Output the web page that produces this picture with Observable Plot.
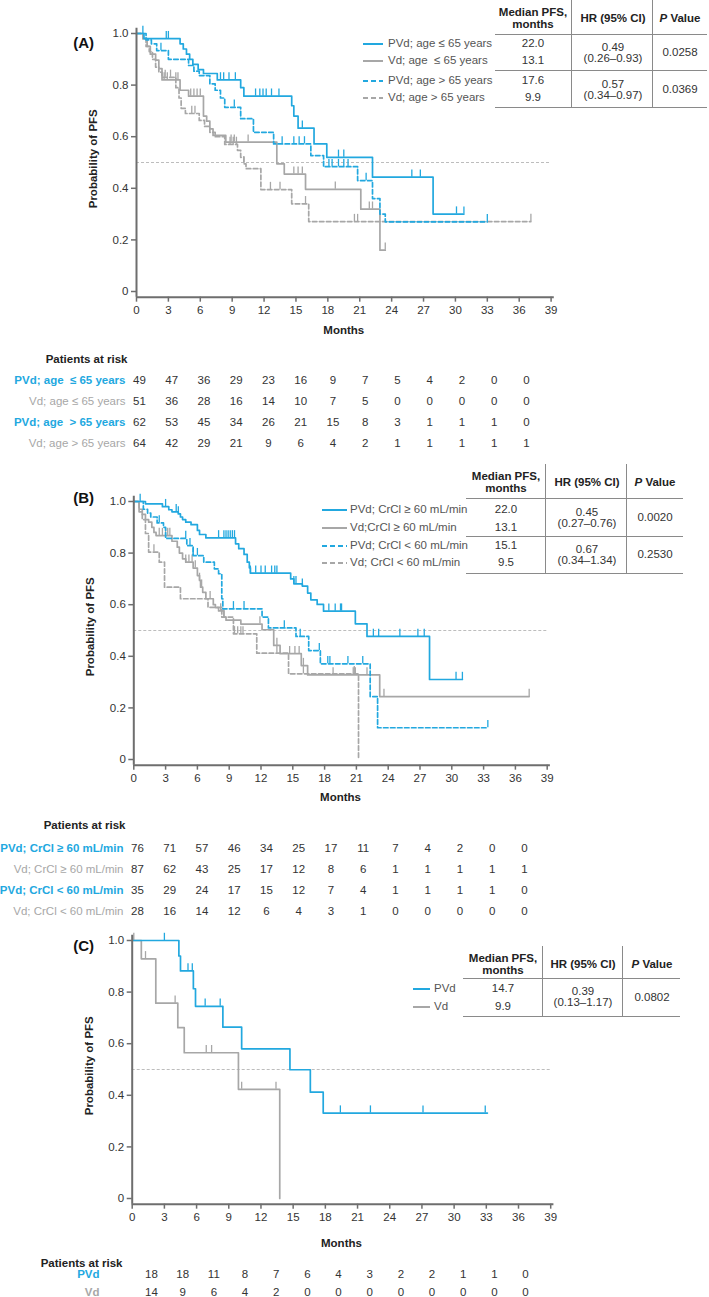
<!DOCTYPE html>
<html><head><meta charset="utf-8">
<script src="https://cdn.jsdelivr.net/npm/d3@7"></script>
<script src="https://cdn.jsdelivr.net/npm/@observablehq/plot@0.6"></script>
<style>
body{margin:0;background:#fff;font-family:"Liberation Sans",Arial,Helvetica,sans-serif;}
#page{position:relative;width:709px;height:1297px;overflow:hidden;background:#fff;}
.abs{position:absolute;white-space:pre;line-height:1;}
.plot{position:absolute;left:0;}
</style></head><body><div id="page"></div>
<script>
const BLUE = "#22a8df", GRAY = "#a7a7a7", AXIS = "#6e6e6e", INK = "#333";
const xTicks = d3.range(0, 40, 3);
const riskMonths = d3.range(0, 37, 3);
const yTicks = [0, 0.2, 0.4, 0.6, 0.8, 1];

// ---------- Panel A : age ----------
const labelsA = ["PVd; age ≤ 65 years", "Vd; age  ≤ 65 years", "PVd; age > 65 years", "Vd; age > 65 years"];
const riskLabelsA = ["PVd; age  ≤ 65 years", "Vd; age ≤ 65 years", "PVd; age  > 65 years", "Vd; age > 65 years"];
const kmA_pvdLe65 = [[0,1],[0.7,0.98],[4.1,0.96],[4.4,0.94],[4.7,0.92],[5.0,0.90],[5.3,0.88],[5.8,0.86],[6.3,0.845],[7.6,0.82],[9.8,0.79],[10.1,0.757],[14.6,0.72],[14.8,0.68],[15.2,0.633],[16.7,0.572],[17.9,0.52],[22.2,0.443],[27.9,0.30],[30.8,0.30]];
const cenA_pvdLe65 = [0.6,2.8,3.0,7.9,8.2,8.7,9.3,11.2,11.6,11.9,12.2,12.7,13.4,15.6,19.0,19.5,25.9,26.7,30.1,30.8];
const kmA_vdLe65 = [[0,1],[0.6,0.98],[1.0,0.95],[1.3,0.92],[1.8,0.897],[2.1,0.864],[2.4,0.82],[4.1,0.78],[4.9,0.757],[6.3,0.68],[6.6,0.66],[6.9,0.63],[7.2,0.605],[8.4,0.579],[13.2,0.495],[13.9,0.455],[15.9,0.396],[21.1,0.319],[22.9,0.16],[23.4,0.16]];
const cenA_vdLe65 = [2.6,2.9,3.7,3.9,5.1,5.4,5.7,6.0,8.9,9.2,10.5,14.8,15.2,15.6,18.7,21.9,22.2,23.4];
const kmA_pvdGt65 = [[0,1],[0.9,0.975],[1.4,0.96],[1.9,0.934],[3.0,0.90],[4.9,0.876],[5.4,0.854],[5.9,0.837],[6.9,0.805],[7.4,0.78],[7.9,0.75],[8.3,0.714],[9.8,0.67],[11.0,0.617],[12.9,0.572],[16.4,0.527],[17.6,0.484],[20.8,0.43],[22.2,0.36],[22.9,0.30],[23.4,0.27],[33.0,0.27]];
const cenA_pvdGt65 = [2.3,9.2,13.7,14.8,15.3,15.8,18.1,18.4,19.0,19.5,19.9,21.6,33.0];
const kmA_vdGt65 = [[0,1],[0.6,0.98],[0.9,0.95],[1.2,0.93],[1.5,0.90],[1.8,0.87],[2.1,0.85],[2.4,0.83],[3.7,0.79],[4.0,0.75],[4.2,0.71],[4.6,0.69],[5.9,0.663],[6.4,0.64],[6.9,0.617],[7.4,0.60],[8.3,0.57],[9.5,0.547],[9.8,0.52],[10.1,0.495],[10.3,0.476],[11.7,0.395],[14.6,0.34],[16.2,0.271],[37.1,0.271]];
const cenA_vdGt65 = [2.7,3.2,5.2,5.5,8.8,9.1,9.4,10.1,12.6,13.5,15.9,20.5,20.8,37.1];
const riskA_pvdLe65 = [49,47,36,29,23,16,9,7,5,4,2,0,0];
const riskA_vdLe65 = [51,36,28,16,14,10,7,5,0,0,0,0,0];
const riskA_pvdGt65 = [62,53,45,34,26,21,15,8,3,1,1,1,0];
const riskA_vdGt65 = [64,42,29,21,9,6,4,2,1,1,1,1,1];
const medianA = ["22.0","13.1","17.6","9.9"];
const hrA = ["0.49","0.57"];
const ciA = ["(0.26–0.93)","(0.34–0.97)"];
const pA = ["0.0258","0.0369"];

// ---------- Panel B : CrCl ----------
const labelsB = ["PVd; CrCl ≥ 60 mL/min", "Vd;CrCl ≥ 60 mL/min", "PVd; CrCl < 60 mL/min", "Vd; CrCl < 60 mL/min"];
const riskLabelsB = ["PVd; CrCl ≥ 60 mL/min", "Vd; CrCl ≥ 60 mL/min", "PVd; CrCl < 60 mL/min", "Vd; CrCl < 60 mL/min"];
const kmB_pvdGe60 = [[0,1],[1.1,0.991],[2.7,0.98],[3.3,0.968],[3.6,0.96],[4.2,0.952],[4.4,0.94],[4.6,0.93],[4.9,0.92],[5.4,0.91],[6.0,0.888],[6.2,0.872],[6.8,0.859],[9.6,0.836],[9.9,0.817],[10.4,0.795],[10.7,0.765],[10.9,0.743],[11.0,0.722],[14.8,0.70],[15.1,0.681],[15.9,0.672],[16.4,0.645],[16.7,0.619],[17.3,0.601],[17.9,0.575],[20.9,0.526],[22.0,0.477],[27.9,0.31],[31.0,0.31]];
const cenB_pvdGe60 = [0.6,3.0,4.0,4.2,8.0,8.5,8.7,8.9,9.1,9.3,9.5,11.0,11.5,12.0,12.4,13.0,13.3,13.5,15.1,15.3,15.9,18.4,19.0,19.5,19.6,22.6,23.1,25.1,26.8,27.4,30.4,31.0];
const kmB_vdGe60 = [[0,1],[0.5,0.97],[0.8,0.95],[1.1,0.93],[1.4,0.92],[1.7,0.90],[1.9,0.88],[2.1,0.868],[3.6,0.846],[4.1,0.823],[4.3,0.80],[4.6,0.778],[4.9,0.765],[5.6,0.742],[6.0,0.713],[6.2,0.694],[6.3,0.668],[6.5,0.648],[6.8,0.623],[7.5,0.60],[7.7,0.589],[8.0,0.576],[8.5,0.552],[8.7,0.54],[10.1,0.525],[12.1,0.503],[13.2,0.442],[13.8,0.41],[15.8,0.364],[16.4,0.328],[23.2,0.244],[37.3,0.244]];
const cenB_vdGe60 = [2.4,2.7,3.0,3.2,3.4,4.9,5.2,5.5,5.8,6.2,6.4,7.2,8.2,8.5,11.9,13.5,14.7,15.2,15.6,16.0,18.8,20.7,20.9,22.0,23.6,37.3];
const kmB_pvdLt60 = [[0,1],[0.9,0.97],[1.3,0.955],[1.6,0.94],[2.2,0.917],[2.8,0.90],[3.0,0.857],[5.0,0.829],[5.6,0.79],[6.6,0.765],[7.6,0.739],[8.0,0.72],[8.3,0.623],[8.4,0.584],[12.1,0.552],[12.7,0.51],[15.3,0.477],[16.5,0.422],[17.6,0.371],[22.3,0.244],[23.0,0.123],[33.4,0.123]];
const cenB_pvdLt60 = [2.4,4.9,5.3,5.6,6.0,9.4,10.4,14.2,15.7,17.5,18.3,18.5,20.2,21.6,33.4];
const kmB_vdLt60 = [[0,1],[0.5,0.96],[0.8,0.93],[1.1,0.876],[1.4,0.804],[2.4,0.765],[2.9,0.668],[4.4,0.623],[7.0,0.59],[8.3,0.552],[9.4,0.487],[11.6,0.412],[14.6,0.332],[21.2,0]];
const cenB_vdLt60 = [1.9,9.5,9.8,10.1,10.3,13.5,16.0,20.8];
const riskB_pvdGe60 = [76,71,57,46,34,25,17,11,7,4,2,0,0];
const riskB_vdGe60 = [87,62,43,25,17,12,8,6,1,1,1,1,1];
const riskB_pvdLt60 = [35,29,24,17,15,12,7,4,1,1,1,1,0];
const riskB_vdLt60 = [28,16,14,12,6,4,3,1,0,0,0,0,0];
const medianB = ["22.0","13.1","15.1","9.5"];
const hrB = ["0.45","0.67"];
const ciB = ["(0.27–0.76)","(0.34–1.34)"];
const pB = ["0.0020","0.2530"];

// ---------- Panel C ----------
const labelsC = ["PVd", "Vd"];
const kmC_pvd = [[0,1],[4.35,0.94],[4.5,0.882],[5.7,0.813],[5.9,0.745],[8.45,0.664],[10.2,0.58],[14.7,0.499],[16.6,0.412],[17.8,0.331],[33.1,0.331]];
const cenC_pvd = [3.0,5.2,5.6,6.8,8.2,19.4,22.2,27.1,32.9];
const kmC_vd = [[0,1],[0.85,0.929],[2.2,0.757],[4.25,0.662],[4.85,0.565],[9.9,0.423],[13.75,0]];
const cenC_vd = [0.15,1.24,4.0,6.9,7.4,10.2,13.4];
const riskC_pvd = [18,18,11,8,7,6,4,3,2,2,1,1,0];
const riskC_vd = [14,9,6,4,2,0,0,0,0,0,0,0,0];
const medianC = ["14.7","9.9"];
const hrC = ["0.39"];
const ciC = ["(0.13–1.17)"];
const pC = ["0.0802"];

// ---------- helpers ----------
const page = document.getElementById("page");
function survAt(data, t) { let s = data[0][1]; for (const [ti, si] of data) if (ti <= t) s = si; return s; }
function txt(str, x, y, o = {}) {
  const d = document.createElement("div");
  d.className = "abs";
  d.textContent = str;
  const anchor = o.anchor || "middle";
  const tx = anchor === "middle" ? "-50%" : anchor === "end" ? "-100%" : "0";
  d.style.left = x + "px"; d.style.top = y + "px";
  d.style.transform = `translate(${tx},-50%)`;
  d.style.fontSize = (o.size || 11.5) + "px";
  d.style.color = o.color || INK;
  if (o.bold) d.style.fontWeight = "bold";
  if (o.html) d.innerHTML = o.html;
  page.appendChild(d);
  return d;
}
function hline(x1, x2, y, o = {}) {
  const d = document.createElement("div");
  d.className = "abs";
  d.style.left = x1 + "px"; d.style.top = (y - 1) + "px"; d.style.width = (x2 - x1) + "px"; d.style.height = "0";
  d.style.borderTop = `${o.w || 1.3}px ${o.dash ? "dashed" : "solid"} ${o.color || "#8a8a8a"}`;
  page.appendChild(d);
}
function vline(x, y1, y2) {
  const d = document.createElement("div");
  d.className = "abs";
  d.style.left = (x - 0.6) + "px"; d.style.top = y1 + "px"; d.style.height = (y2 - y1) + "px"; d.style.width = "0";
  d.style.borderLeft = "1.3px solid #8a8a8a";
  page.appendChild(d);
}
function legendSample(x1, x2, y, color, dashed) {
  const s = d3.create("svg").attr("width", x2 - x1).attr("height", 4)
    .style("position", "absolute").style("left", x1 + "px").style("top", (y - 2) + "px");
  s.append("line").attr("x1", 0).attr("x2", x2 - x1).attr("y1", 2).attr("y2", 2)
    .attr("stroke", color).attr("stroke-width", 2).attr("stroke-dasharray", dashed ? "5,3" : null);
  page.appendChild(s.node());
}

function kmPlot(curves, top, x0, x39, monthsDy) {
  const H = 345, yTop = 33, unit = 258, lo = -0.022, hi = 1.02;
  const yBase = yTop + unit;
  const marks = [
    Plot.ruleY([0.5], {x1: 0, x2: 39, stroke: "#bdbdbd", strokeWidth: 1, strokeDasharray: "3,2"})
  ];
  for (const c of curves) {
    marks.push(Plot.line(c.data.map(([t, s]) => ({t, s})), {x: "t", y: "s", curve: "step-after", stroke: c.color, strokeWidth: 1.7, strokeDasharray: c.dash ? "4.5,2.5" : null}));
    marks.push(Plot.ruleX(c.censors.map(t => ({t, s: survAt(c.data, t)})), {x: "t", y1: "s", y2: d => d.s + 0.028, stroke: c.color, strokeWidth: 1.3}));
  }
  marks.push(
    Plot.ruleX([0], {y1: lo, y2: hi, stroke: AXIS, strokeWidth: 2}),
    Plot.ruleY([lo], {x1: 0, x2: 39.3, stroke: AXIS, strokeWidth: 2}),
    Plot.axisY({ticks: yTicks, tickFormat: d => d === 0 ? "0" : d.toFixed(1), tickSize: 5, tickPadding: 3, stroke: AXIS, strokeWidth: 1.5, fontSize: 11.5, label: null}),
    Plot.axisX({ticks: xTicks, tickSize: 5, tickPadding: 4, stroke: AXIS, strokeWidth: 1.5, fontSize: 11.5, label: null}),
    Plot.text(["Probability of PFS"], {frameAnchor: "left", dx: -43, dy: -4, rotate: -90, textAnchor: "middle", fontWeight: "bold", fontSize: 11.5, fill: "#222"}),
    Plot.text(["Months"], {frameAnchor: "bottom", dy: monthsDy, fontWeight: "bold", fontSize: 11.5, fill: "#222"})
  );
  const svg = Plot.plot({
    width: 709, height: H,
    marginLeft: x0, marginRight: 709 - x39,
    marginTop: yTop - 0.02 * unit, marginBottom: H - (yBase + 0.022 * unit),
    x: {domain: [0, 39]}, y: {domain: [lo, hi]},
    style: {fontFamily: '"Liberation Sans", Arial, sans-serif', fontSize: "11.5px", color: INK, background: "transparent", overflow: "visible"},
    marks
  });
  svg.classList.add("plot");
  svg.style.top = top + "px";
  page.appendChild(svg);
}

function riskPlot(rows, top, x0, x36, parY, rowYs, labelRight, parRight) {
  const H = 120;
  const rowTop = rowYs[0] - top, rowBot = rowYs[rowYs.length - 1] - top;
  const marks = [
    Plot.text(["Patients at risk"], {frameAnchor: "top-left", dx: parRight - x0, dy: (parY - top) - rowTop, textAnchor: "end", fontWeight: "bold", fontSize: 11.5, fill: "#222"})
  ];
  for (const r of rows) {
    marks.push(Plot.text(r.values.map((n, i) => ({m: riskMonths[i], n, row: r.label})), {x: "m", y: "row", text: d => String(d.n), fill: INK, fontSize: 11.5}));
    marks.push(Plot.text([r], {x: () => 0, y: "label", text: "label", textAnchor: "end", dx: labelRight - x0, fill: r.color, fontWeight: r.bold ? "bold" : "normal", fontSize: 11.5}));
  }
  const svg = Plot.plot({
    width: 709, height: H,
    marginLeft: x0, marginRight: 709 - x36,
    marginTop: rowTop, marginBottom: rowYs.length > 1 ? H - rowBot : H - rowTop - 1,
    x: {domain: [0, 36], axis: null},
    y: {type: "point", domain: rows.map(r => r.label), padding: 0, axis: null},
    style: {fontFamily: '"Liberation Sans", Arial, sans-serif', fontSize: "11.5px", background: "transparent", overflow: "visible"},
    marks
  });
  svg.classList.add("plot");
  svg.style.top = top + "px";
  page.appendChild(svg);
}

function statTable(cfg) {
  const {labels, colors, dashes, legX1, legX2, legTX, rowYs, left, d1, d2, right, top, hY, bottom, midY,
         c1, c2, c3, hdr1, hdr2, hdrMid, medians, hr, ci, p, hrYs, ciYs, pYs} = cfg;
  labels.forEach((l, i) => {
    legendSample(legX1, legX2, rowYs[i], colors[i], dashes[i]);
    txt(l, legTX, rowYs[i], {anchor: "start", color: "#555"});
  });
  hline(left, right, hY); hline(left, right, bottom);
  if (midY) hline(left, right, midY);
  vline(d1, top, bottom); vline(d2, top, bottom);
  txt("Median PFS,", c1, hdr1, {bold: true, color: "#222"});
  txt("months", c1, hdr2, {bold: true, color: "#222"});
  txt("HR (95% CI)", c2, hdrMid, {bold: true, color: "#222"});
  txt("", c3, hdrMid, {html: '<b><i>P</i> Value</b>', color: "#222"});
  medians.forEach((m, i) => txt(m, c1, rowYs[i]));
  hr.forEach((h, i) => { txt(h, c2, hrYs[i]); txt(ci[i], c2, ciYs[i]); txt(p[i], c3, pYs[i]); });
}

// ---------- Panel A ----------
txt("(A)", 94, 42, {anchor: "end", size: 15, bold: true, color: "#111"});
kmPlot([
  {data: kmA_vdGt65, censors: cenA_vdGt65, color: GRAY, dash: true},
  {data: kmA_vdLe65, censors: cenA_vdLe65, color: GRAY, dash: false},
  {data: kmA_pvdGt65, censors: cenA_pvdGt65, color: BLUE, dash: true},
  {data: kmA_pvdLe65, censors: cenA_pvdLe65, color: BLUE, dash: false}
], 0, 136, 550.6, 36.5);
statTable({labels: labelsA, colors: [BLUE, GRAY, BLUE, GRAY], dashes: [false, false, true, true],
  legX1: 363, legX2: 383, legTX: 388, rowYs: [44, 61, 81, 98],
  left: 495, d1: 572, d2: 653, right: 707, top: 0, hY: 35, midY: 71, bottom: 108,
  c1: 533, c2: 613, c3: 680, hdr1: 13, hdr2: 25, hdrMid: 19,
  medians: medianA, hr: hrA, ci: ciA, p: pA, hrYs: [48, 85], ciYs: [59, 96], pYs: [53, 90]});
riskPlot([
  {label: riskLabelsA[0], values: riskA_pvdLe65, color: BLUE, bold: true},
  {label: riskLabelsA[1], values: riskA_vdLe65, color: GRAY, bold: false},
  {label: riskLabelsA[2], values: riskA_pvdGt65, color: BLUE, bold: true},
  {label: riskLabelsA[3], values: riskA_vdGt65, color: GRAY, bold: false}
], 340, 139, 526, 354, [380, 401, 422, 443], 125, 127);

// ---------- Panel B ----------
txt("(B)", 94, 497, {anchor: "end", size: 15, bold: true, color: "#111"});
kmPlot([
  {data: kmB_vdLt60, censors: cenB_vdLt60, color: GRAY, dash: true},
  {data: kmB_vdGe60, censors: cenB_vdGe60, color: GRAY, dash: false},
  {data: kmB_pvdLt60, censors: cenB_pvdLt60, color: BLUE, dash: true},
  {data: kmB_pvdGe60, censors: cenB_pvdGe60, color: BLUE, dash: false}
], 468, 133.3, 546.7, 35.5);
statTable({labels: labelsB, colors: [BLUE, GRAY, BLUE, GRAY], dashes: [false, false, true, true],
  legX1: 322, legX2: 347, legTX: 350, rowYs: [510, 528, 546, 563],
  left: 466, d1: 546, d2: 627, right: 683, top: 464, hY: 499, midY: 537, bottom: 574,
  c1: 506, c2: 587, c3: 655, hdr1: 477, hdr2: 489, hdrMid: 483,
  medians: medianB, hr: hrB, ci: ciB, p: pB, hrYs: [513, 550], ciYs: [524, 561], pYs: [518, 555]});
riskPlot([
  {label: riskLabelsB[0], values: riskB_pvdGe60, color: BLUE, bold: true},
  {label: riskLabelsB[1], values: riskB_vdGe60, color: GRAY, bold: false},
  {label: riskLabelsB[2], values: riskB_pvdLt60, color: BLUE, bold: true},
  {label: riskLabelsB[3], values: riskB_vdLt60, color: GRAY, bold: false}
], 808, 137, 524, 820, [848, 869, 890, 911], 123, 125);

// ---------- Panel C ----------
txt("(C)", 94, 945, {anchor: "end", size: 15, bold: true, color: "#111"});
kmPlot([
  {data: kmC_vd, censors: cenC_vd, color: GRAY, dash: false},
  {data: kmC_pvd, censors: cenC_pvd, color: BLUE, dash: false}
], 907, 131.7, 550.2, 43);
statTable({labels: labelsC, colors: [BLUE, GRAY], dashes: [false, false],
  legX1: 413, legX2: 430, legTX: 434, rowYs: [989, 1007],
  left: 463, d1: 543, d2: 623, right: 680, top: 946, hY: 979, midY: null, bottom: 1017,
  c1: 503, c2: 583, c3: 652, hdr1: 959, hdr2: 971, hdrMid: 965,
  medians: medianC, hr: hrC, ci: ciC, p: pC, hrYs: [992], ciYs: [1003], pYs: [998]});
riskPlot([
  {label: labelsC[0], values: riskC_pvd, color: BLUE, bold: true},
  {label: labelsC[1], values: riskC_vd, color: GRAY, bold: true}
], 1248, 151, 525, 1258, [1274, 1292], 99, 122);
</script></body></html>
